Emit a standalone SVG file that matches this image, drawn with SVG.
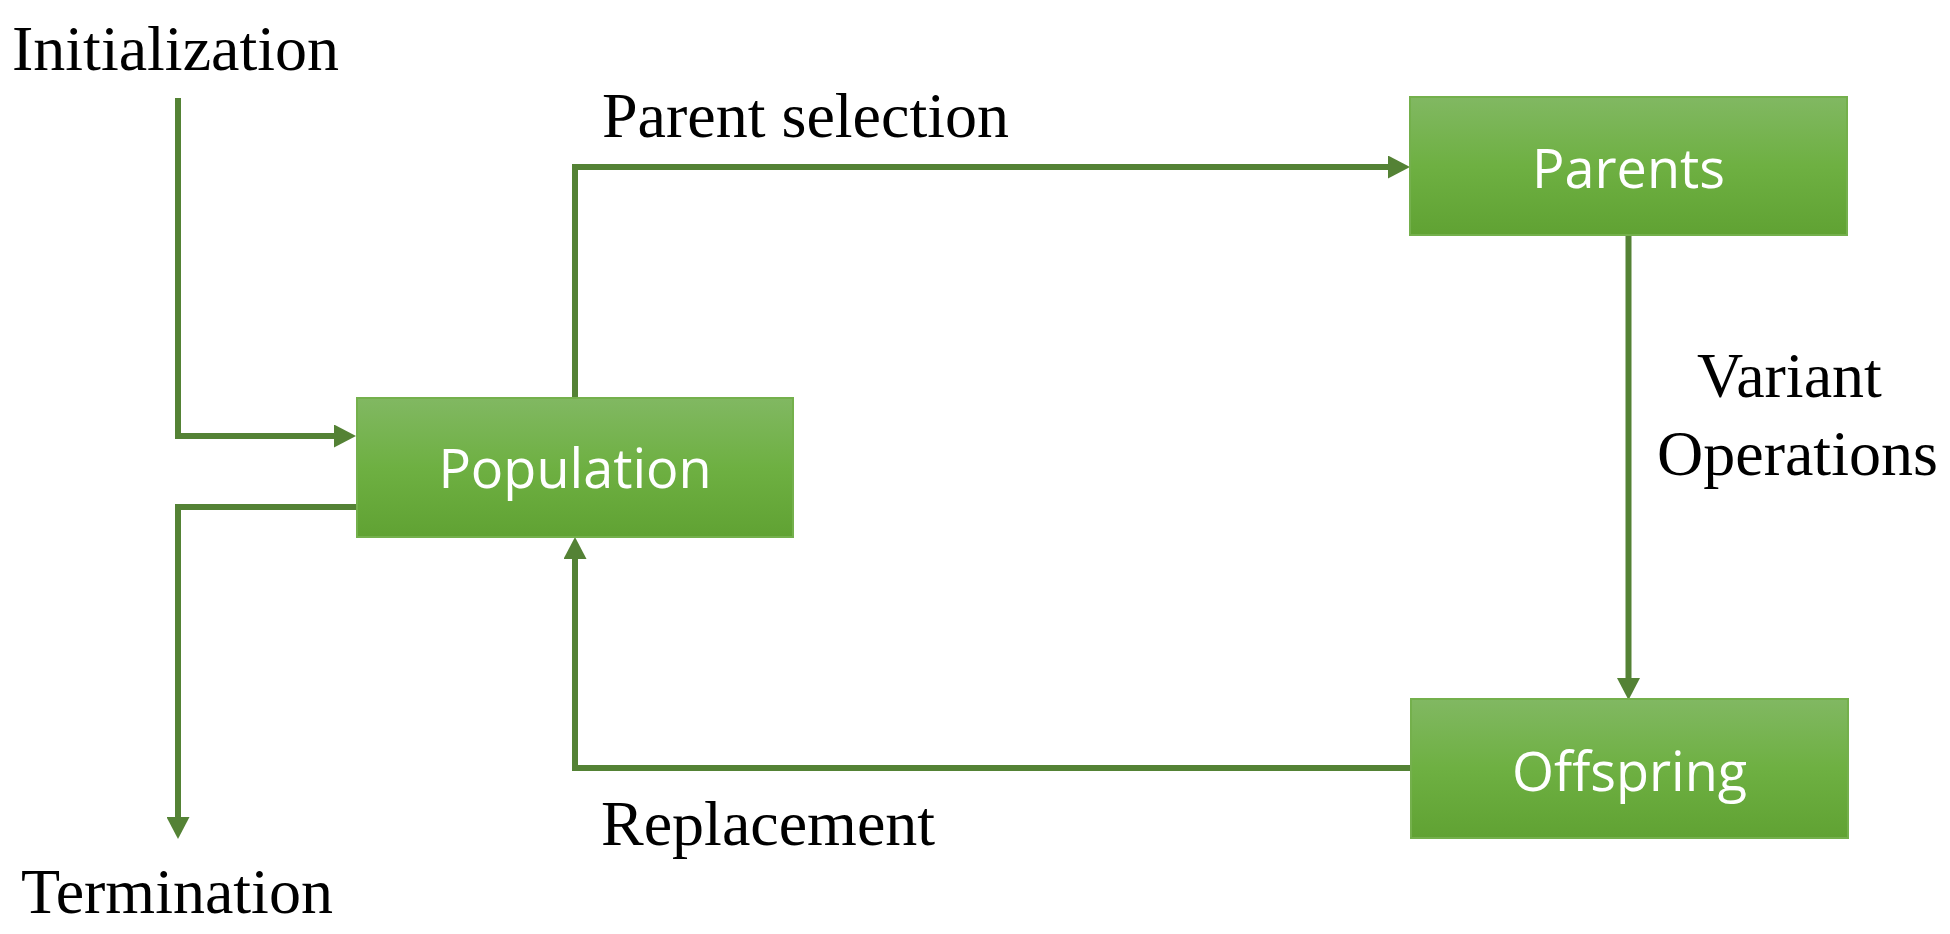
<svg xmlns="http://www.w3.org/2000/svg" width="1950" height="934" viewBox="0 0 1950 934">
  <defs>
    <linearGradient id="boxFill" x1="0" y1="0" x2="0" y2="1">
      <stop offset="0" stop-color="#81b862"/>
      <stop offset="0.5" stop-color="#6eb042"/>
      <stop offset="1" stop-color="#60a233"/>
    </linearGradient>
    <marker id="arrow" markerUnits="userSpaceOnUse" markerWidth="22" markerHeight="23" refX="0" refY="11.5" orient="auto">
      <path d="M0,0 L22,11.5 L0,23 Z" fill="#548235"/>
    </marker>
    <style>
      .box { fill: url(#boxFill); stroke: #74b04c; stroke-width: 2; }
      .boxlabel { font-family: "Open Sans", "Noto Sans", sans-serif; font-size: 54px; fill: #ffffff; text-anchor: middle; }
      .label { font-family: "Liberation Serif", "Times New Roman", serif; font-size: 64px; fill: #000000; }
      .conn { fill: none; stroke: #548235; stroke-width: 6; stroke-linejoin: miter; stroke-linecap: butt; }
    </style>
  </defs>
  <rect width="1950" height="934" fill="#ffffff"/>

  <g id="connectors">
    <path class="conn" d="M178,98 V436 H334" marker-end="url(#arrow)"/>
    <path class="conn" d="M357,507 H178 V817" marker-end="url(#arrow)"/>
    <path class="conn" d="M575,398 V167 H1388" marker-end="url(#arrow)"/>
    <path class="conn" d="M1628.5,235 V678" marker-end="url(#arrow)"/>
    <path class="conn" d="M1411,768 H575 V559" marker-end="url(#arrow)"/>
  </g>

  <g id="labels">
    <text class="label" x="12" y="70">Initialization</text>
    <text class="label" x="602" y="137">Parent selection</text>
    <text class="label" x="1697" y="397">Variant</text>
    <text class="label" x="1657" y="475">Operations</text>
    <text class="label" x="601" y="845">Replacement</text>
    <text class="label" x="21" y="913">Termination</text>
  </g>

  <g id="population">
    <rect class="box" x="357" y="398" width="436" height="139"/>
    <text class="boxlabel" x="575" y="488">Population</text>
  </g>
  <g id="parents">
    <rect class="box" x="1410" y="97" width="437" height="138"/>
    <text class="boxlabel" x="1628.5" y="188">Parents</text>
  </g>
  <g id="offspring">
    <rect class="box" x="1411" y="699" width="437" height="139"/>
    <text class="boxlabel" x="1629.5" y="791">Offspring</text>
  </g>
</svg>
